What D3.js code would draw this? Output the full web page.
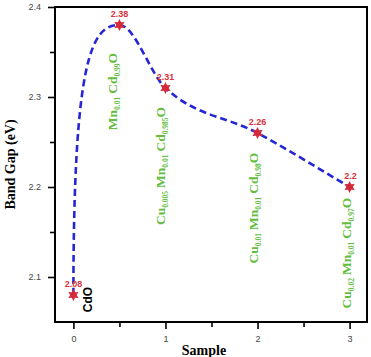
<!DOCTYPE html>
<html>
<head>
<meta charset="utf-8">
<script src="https://cdn.jsdelivr.net/npm/d3@7"></script>
<style>
  body { margin: 0; background: #fff; }
  svg { display: block; }
</style>
</head>
<body>
<div id="chart"></div>
<script>
// data
const samples = [0, 0.5, 1, 2, 3]
const bandGap = [2.08, 2.38, 2.31, 2.26, 2.2]
const valueLabels = ["2.08", "2.38", "2.31", "2.26", "2.2"]
// compound names as [text, isSubscript] pieces
const compounds = [
  [["CdO", false]],
  [["Mn", false], ["0.01", true], ["Cd", false], ["0.99", true], ["O", false]],
  [["Cu", false], ["0.005", true], ["Mn", false], ["0.01", true], ["Cd", false], ["0.985", true], ["O", false]],
  [["Cu", false], ["0.01", true], ["Mn", false], ["0.01", true], ["Cd", false], ["0.98", true], ["O", false]],
  [["Cu", false], ["0.02", true], ["Mn", false], ["0.01", true], ["Cd", false], ["0.97", true], ["O", false]],
]
const xTicks = [0, 1, 2, 3]
const xMinor = [0.5, 1.5, 2.5]
const yTicks = [2.1, 2.2, 2.3, 2.4]
const yMinor = [2.15, 2.25, 2.35]

const W = 371, H = 357
const margin = {top: 7, right: 3, bottom: 35, left: 55}

const svg = d3.select("#chart").append("svg")
  .attr("width", W).attr("height", H)

const x = d3.scaleLinear().domain([-0.2, 3.2]).range([margin.left, W - margin.right])
const y = d3.scaleLinear().domain([2.05, 2.4]).range([H - margin.bottom, margin.top])

// axes (ticks outward, frame drawn separately)
const tickStyle = g => {
  g.select(".domain").remove()
  g.selectAll(".tick line").attr("stroke", "#000").attr("stroke-width", 1.6)
  g.selectAll(".tick text").attr("fill", "#444").style("font", "9px Arial, 'Liberation Sans', sans-serif")
}
svg.append("g")
  .attr("transform", `translate(0,${H - margin.bottom})`)
  .call(d3.axisBottom(x).tickValues(xTicks).tickSize(7).tickPadding(7).tickFormat(d3.format("d")))
  .call(tickStyle)
svg.append("g")
  .attr("transform", `translate(0,${H - margin.bottom})`)
  .call(d3.axisBottom(x).tickValues(xMinor).tickSize(5).tickFormat(""))
  .call(tickStyle)
svg.append("g")
  .attr("transform", `translate(${margin.left},0)`)
  .call(d3.axisLeft(y).tickValues(yTicks).tickSize(7).tickPadding(7).tickFormat(d3.format(".1f")))
  .call(tickStyle)
svg.append("g")
  .attr("transform", `translate(${margin.left},0)`)
  .call(d3.axisLeft(y).tickValues(yMinor).tickSize(5).tickFormat(""))
  .call(tickStyle)

// frame
svg.append("rect")
  .attr("x", margin.left).attr("y", margin.top)
  .attr("width", W - margin.left - margin.right - 1)
  .attr("height", H - margin.top - margin.bottom)
  .attr("fill", "none").attr("stroke", "#000").attr("stroke-width", 2)

// axis titles
svg.append("text")
  .attr("transform", `translate(15,${(margin.top + H - margin.bottom) / 2}) rotate(-90)`)
  .attr("text-anchor", "middle")
  .style("font", "bold 14px 'Liberation Serif', 'Times New Roman', serif")
  .text("Band Gap (eV)")
svg.append("text")
  .attr("x", 204).attr("y", 355)
  .attr("text-anchor", "middle")
  .style("font", "bold 14px 'Liberation Serif', 'Times New Roman', serif")
  .text("Sample")

// smooth connecting curve: hermite segments in pixel space,
// first segment leaves the CdO point vertically like the original
const pts = samples.map((s, i) => [x(s), y(bandGap[i])])
const n = pts.length
const secant = i => (pts[i + 1][1] - pts[i][1]) / (pts[i + 1][0] - pts[i][0])
const m = pts.map((p, i) => {
  if (i === 0) return secant(0)
  if (i === n - 1) return secant(n - 2)
  const s0 = secant(i - 1), s1 = secant(i)
  if (s0 * s1 <= 0) return 0
  return (s0 + s1) / 2
})
const path = d3.path()
path.moveTo(pts[0][0], pts[0][1])
for (let i = 0; i < n - 1; i++) {
  const [x0, y0] = pts[i], [x1, y1] = pts[i + 1]
  const h = x1 - x0
  if (i === 0) {
    path.bezierCurveTo(x0, y0 + (y1 - y0) * 0.88, x1 - h * 0.6, y1, x1, y1)
  } else {
    path.bezierCurveTo(x0 + h / 3, y0 + m[i] * h / 3, x1 - h / 3, y1 - m[i + 1] * h / 3, x1, y1)
  }
}
svg.append("path")
  .attr("d", path.toString())
  .attr("fill", "none")
  .attr("stroke", "#2626d4")
  .attr("stroke-width", 2.6)
  .attr("stroke-dasharray", "7,4")

// six-pointed star markers
const star6 = {
  draw(ctx, size) {
    const r = Math.sqrt(size) * 0.62, ri = r * 0.55
    for (let k = 0; k < 12; k++) {
      const a = k * Math.PI / 6 - Math.PI / 2
      const rr = k % 2 ? ri : r
      if (k === 0) ctx.moveTo(rr * Math.cos(a), rr * Math.sin(a))
      else ctx.lineTo(rr * Math.cos(a), rr * Math.sin(a))
    }
    ctx.closePath()
  }
}
svg.append("g").selectAll("path")
  .data(samples)
  .join("path")
  .attr("transform", (d, i) => `translate(${x(d)},${y(bandGap[i])})`)
  .attr("d", d3.symbol(star6, 90))
  .attr("fill", "#d42a3a")

// value labels
svg.append("g").selectAll("text")
  .data(samples)
  .join("text")
  .attr("x", (d, i) => x(d) + (i === n - 1 ? 1 : 0))
  .attr("y", (d, i) => y(bandGap[i]) - 8)
  .attr("text-anchor", "middle")
  .attr("fill", "#d8323c")
  .style("font", "bold 9px Arial, 'Liberation Sans', sans-serif")
  .text((d, i) => valueLabels[i])

// rotated compound names (top end of each label, in data units)
const nameX = [0.2, 0.47, 0.99, 2.0, 3.02]
const nameTop = [2.089, 2.349, 2.289, 2.238, 2.188]
compounds.forEach((parts, i) => {
  const isCdO = i === 0
  const t = svg.append("text")
    .attr("transform", `translate(${x(nameX[i])},${y(nameTop[i])}) rotate(-90)`)
    .attr("text-anchor", "end")
    .attr("dy", "0.35em")
    .attr("fill", isCdO ? "#000" : "#62bd3c")
    .style("font", isCdO ? "bold 12px Arial, 'Liberation Sans', sans-serif"
                         : "bold 13.5px 'Liberation Serif', 'Times New Roman', serif")
  parts.forEach(([txt, sub], k) => {
    const prevSub = k > 0 && parts[k - 1][1]
    t.append("tspan")
      .attr("dy", sub ? 3 : (prevSub ? -3 : 0))
      .attr("dx", prevSub && txt !== "O" ? 3 : 0)
      .style("font-size", sub ? "7.5px" : null)
      .text(txt)
  })
})
</script>
</body>
</html>
